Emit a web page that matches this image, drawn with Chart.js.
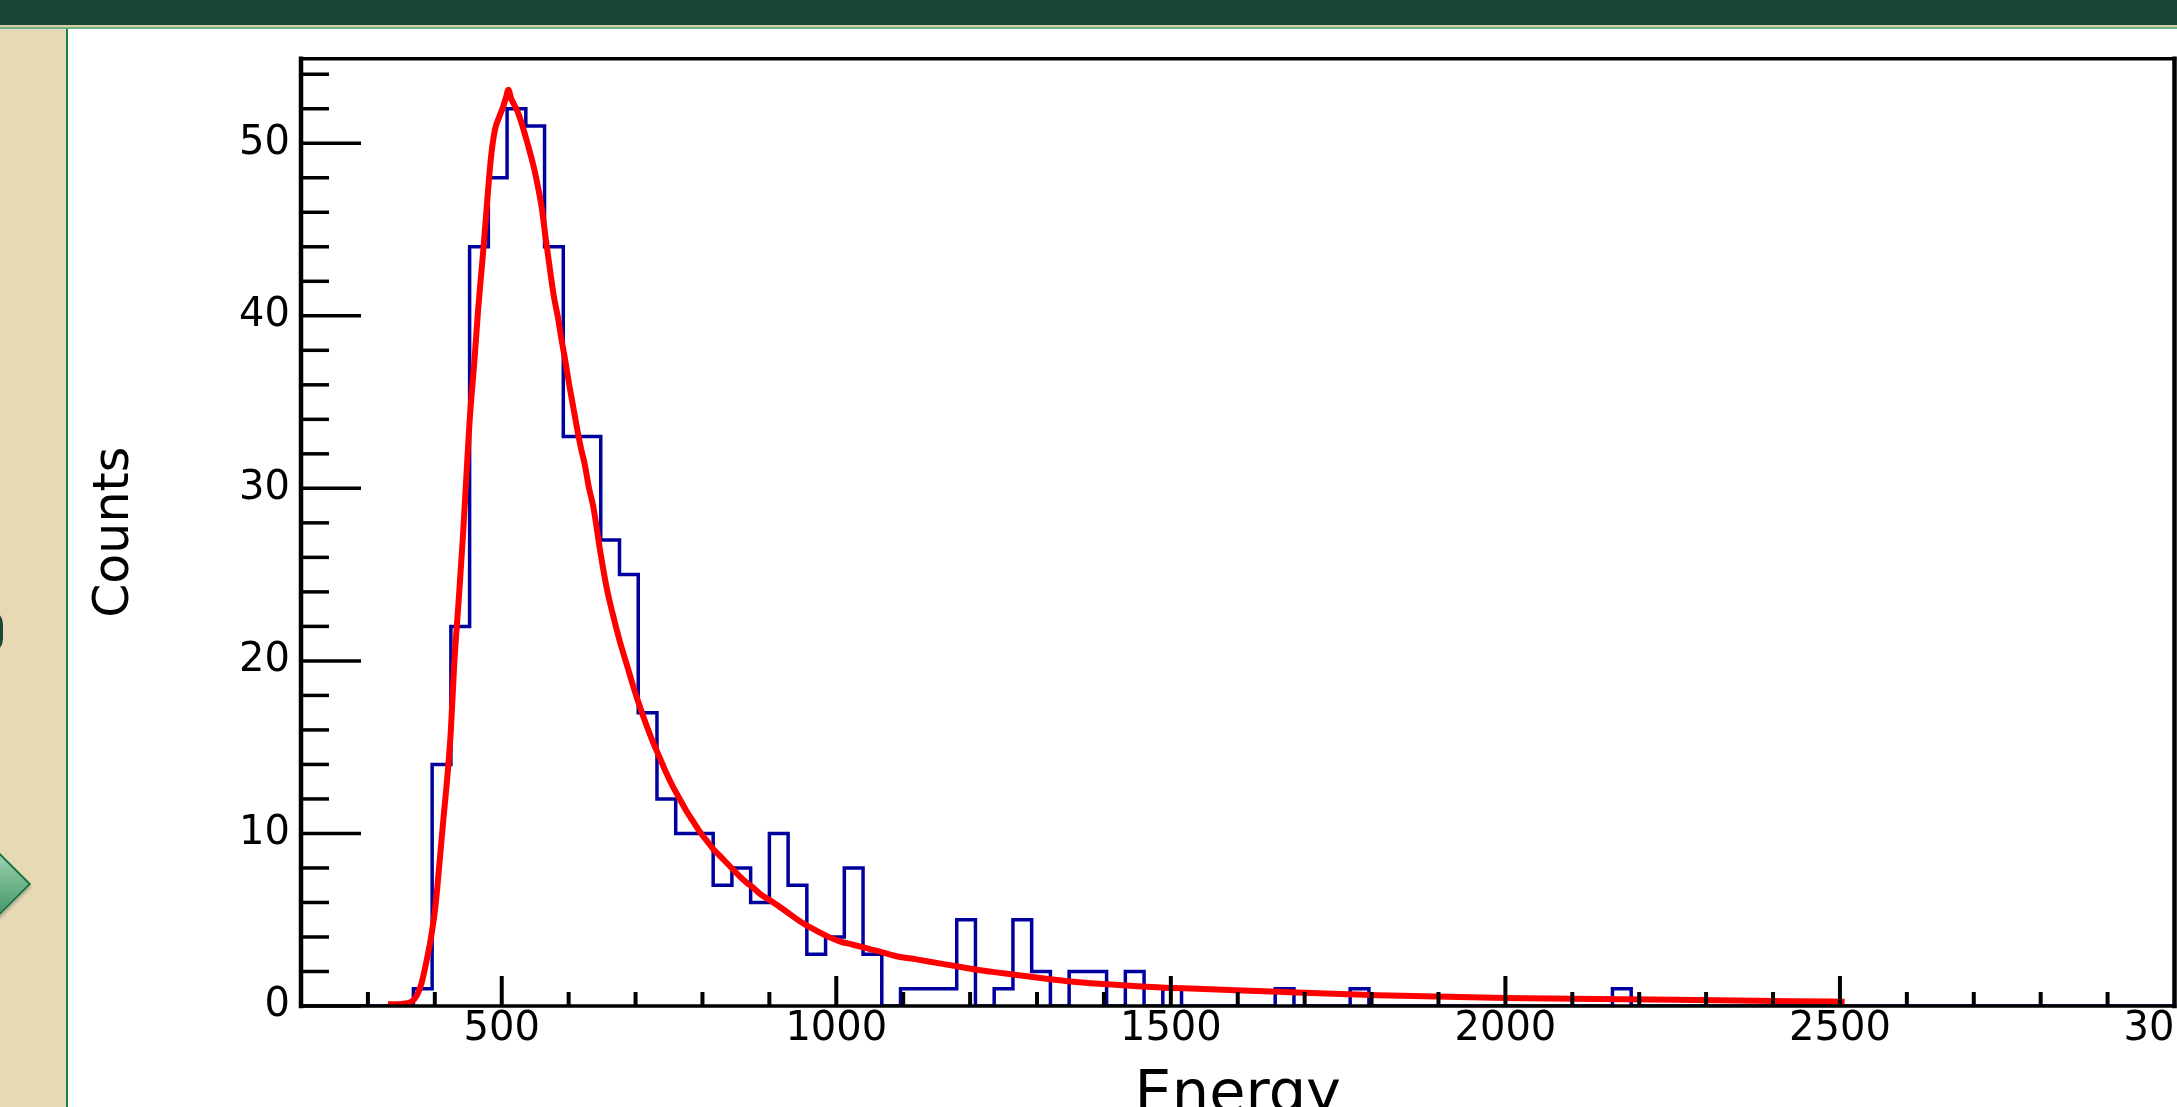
<!DOCTYPE html>
<html>
<head>
<meta charset="utf-8">
<title>Energy spectrum</title>
<script src="https://cdn.jsdelivr.net/npm/chart.js@4.4.1/dist/chart.umd.min.js"></script>
<style>
  html, body { margin: 0; padding: 0; overflow: hidden; background: #fff; }
  body { width: 2177px; height: 1107px; position: relative; }
  .topbar { position: absolute; left: 0; top: 0; width: 2177px; height: 25px; background: #1a4639; }
  .topline1 { position: absolute; left: 0; top: 25px; width: 2177px; height: 2px; background: #d6cea2; }
  .topline2 { position: absolute; left: 0; top: 27px; width: 2177px; height: 2px; background: #6cb08c; }
  .sidebar { position: absolute; left: 0; top: 29px; width: 66px; height: 1078px; background: #e6d9b4; border-right: 2px solid #1f8050; overflow: hidden; }
  .tab { position: absolute; left: -30px; top: 581px; width: 33px; height: 43px; background: #1a4639; border-radius: 0 14px 14px 0; }
  .arrow { position: absolute; left: -51px; top: 821px; width: 64px; height: 64px; transform: rotate(45deg);
           background: linear-gradient(to bottom right, #b2dfc1, #2e8a57); border: 2px solid #127244;
           box-shadow: 2px 2px 3px rgba(0,0,0,0.25); }
  #spectrum { position: absolute; left: 0; top: 0; }
</style>
</head>
<body>
<div class="topbar"></div>
<div class="topline1"></div>
<div class="topline2"></div>
<div class="sidebar"><div class="tab"></div><div class="arrow"></div></div>
<canvas id="spectrum" width="2177" height="1140"></canvas>

<script>
// Histogram: 100 bins of 28 from 200 to 3000
const binLow = 200;
const binWidth = 28;
const counts = [
    0, 0, 0, 0, 0, 0, 1, 14, 22, 44,
    48, 52, 51, 44, 33, 33, 27, 25, 17, 12,
    10, 10, 7, 8, 6, 10, 7, 3, 4, 8,
    3, 0, 1, 1, 1, 5, 0, 1, 5, 2,
    0, 2, 2, 0, 2, 0, 1, 0, 0, 0,
    0, 0, 1, 0, 0, 0, 1, 0, 0, 0,
    0, 0, 0, 0, 0, 0, 0, 0, 0, 0,
    1, 0, 0, 0, 0, 0, 0, 0, 0, 0,
    0, 0, 0, 0, 0, 0, 0, 0, 0, 0,
    0, 0, 0, 0, 0, 0, 0, 0, 0, 0
];

// Fitted curve, sampled
const fitEnergy = [
    330, 350, 365, 373, 380, 387, 394, 401, 407, 413,
    419, 424, 429, 436, 442, 447, 452, 459, 465, 472,
    478, 484, 490, 496, 501, 506, 510, 514, 519, 524,
    531, 537, 542, 548, 554, 560, 566, 572, 578, 584,
    589, 595, 600, 606, 612, 618, 624, 630, 637, 647,
    657, 666, 676, 686, 696, 706, 716, 726, 736, 746,
    756, 766, 776, 786, 796, 806, 816, 826, 836, 846,
    856, 866, 876, 886, 906, 926, 946, 966, 986, 1005,
    1025, 1045, 1065, 1090, 1120, 1150, 1180, 1210, 1250, 1300,
    1350, 1400, 1450, 1500, 1530, 1650, 1810, 2000, 2220, 2430,
    2507
];
const fitCounts = [
    0.10, 0.12, 0.25, 0.6, 1.3, 2.5, 3.9, 5.8, 8.3, 10.9,
    13.4, 16.0, 19.8, 23.7, 27.2, 30.6, 33.9, 37.3, 40.5, 43.6,
    46.5, 49.2, 50.8, 51.5, 52.0, 52.6, 53.1, 52.6, 52.2, 51.8,
    51.0, 50.2, 49.5, 48.6, 47.5, 46.2, 44.4, 42.7, 41.1, 39.9,
    38.7, 37.4, 36.2, 34.9, 33.6, 32.4, 31.4, 30.1, 28.9, 26.4,
    24.2, 22.7, 21.2, 19.9, 18.6, 17.4, 16.3, 15.3, 14.4, 13.5,
    12.7, 12.0, 11.3, 10.7, 10.1, 9.6, 9.1, 8.7, 8.3, 7.9,
    7.5, 7.15, 6.85, 6.5, 6.0, 5.45, 4.9, 4.45, 4.05, 3.75,
    3.55, 3.35, 3.15, 2.88, 2.7, 2.5, 2.3, 2.1, 1.9, 1.65,
    1.42, 1.27, 1.15, 1.05, 1.01, 0.84, 0.62, 0.47, 0.38, 0.28,
    0.25
];

const xTickLabels = [500, 1000, 1500, 2000, 2500, 3000];
const yTickLabels = [0, 10, 20, 30, 40, 50];

const histPoints = counts.map((c, i) => ({ x: binLow + i * binWidth, y: c }));
histPoints.push({ x: binLow + counts.length * binWidth, y: 0 });
const fitPoints = fitEnergy.map((e, i) => ({ x: e, y: fitCounts[i] }));

const font = 'DejaVu Sans';

// ROOT-like frame with inward major/minor ticks, drawn over the data
const frameTicks = {
    id: 'frameTicks',
    afterDatasetsDraw(chart) {
        const { ctx, chartArea: a, scales: { x, y } } = chart;
        ctx.save();
        ctx.strokeStyle = '#000';
        ctx.lineCap = 'butt';

        ctx.lineWidth = 3.5;
        for (let v = 0; v <= y.max; v += 2) {
            const py = y.getPixelForValue(v);
            const len = v % 10 === 0 ? 60 : 28;
            ctx.beginPath();
            ctx.moveTo(a.left, py);
            ctx.lineTo(a.left + len, py);
            ctx.stroke();
        }

        ctx.lineWidth = 4;
        for (let v = 300; v < x.max; v += 100) {
            const px = x.getPixelForValue(v);
            const len = v % 500 === 0 ? 30 : 14;
            ctx.beginPath();
            ctx.moveTo(px, a.bottom);
            ctx.lineTo(px, a.bottom - len);
            ctx.stroke();
        }

        ctx.lineCap = 'square';
        ctx.lineWidth = 3.5;
        ctx.beginPath();
        ctx.moveTo(a.left, a.top);
        ctx.lineTo(a.right, a.top);
        ctx.moveTo(a.left, a.bottom);
        ctx.lineTo(a.right, a.bottom);
        ctx.stroke();
        ctx.lineWidth = 4.5;
        ctx.beginPath();
        ctx.moveTo(a.left, a.top);
        ctx.lineTo(a.left, a.bottom);
        ctx.moveTo(a.right, a.top);
        ctx.lineTo(a.right, a.bottom);
        ctx.stroke();
        ctx.restore();
    }
};

function noPadding(scale) {
    scale.paddingLeft = 0;
    scale.paddingRight = 0;
    scale.paddingTop = 0;
    scale.paddingBottom = 0;
}

new Chart(document.getElementById('spectrum'), {
    type: 'line',
    data: {
        datasets: [
            {
                label: 'fit',
                data: fitPoints,
                borderColor: '#ff0000',
                borderWidth: 6,
                pointRadius: 0,
                cubicInterpolationMode: 'monotone',
                order: 0
            },
            {
                label: 'Energy',
                data: histPoints,
                borderColor: '#00009f',
                borderWidth: 3.5,
                pointRadius: 0,
                stepped: 'before',
                order: 1
            }
        ]
    },
    options: {
        responsive: false,
        animation: false,
        events: [],
        layout: { padding: { left: 0, top: 58.7, right: 2.5, bottom: 0 } },
        plugins: {
            legend: { display: false },
            tooltip: { enabled: false }
        },
        scales: {
            x: {
                type: 'linear',
                position: 'bottom',
                min: 200,
                max: 3000,
                grid: { display: false, drawTicks: false },
                border: { display: false },
                afterBuildTicks: s => { s.ticks = xTickLabels.map(v => ({ value: v })); },
                afterFit: s => { s.height = 134; noPadding(s); },
                ticks: {
                    autoSkip: false,
                    maxRotation: 0,
                    padding: 0,
                    color: '#000',
                    font: { family: font, size: 40 },
                    callback: v => String(v)
                },
                title: {
                    display: true,
                    text: 'Energy',
                    color: '#000',
                    font: { family: font, size: 59 },
                    padding: { top: 0, bottom: 8 }
                }
            },
            y: {
                type: 'linear',
                position: 'left',
                min: 0,
                max: 54.9,
                grid: { display: false, drawTicks: false },
                border: { display: false },
                afterBuildTicks: s => { s.ticks = yTickLabels.map(v => ({ value: v })); },
                afterFit: s => { s.width = 301; noPadding(s); },
                ticks: {
                    autoSkip: false,
                    padding: 11,
                    color: '#000',
                    font: { family: font, size: 40 },
                    callback: v => String(v)
                },
                title: {
                    display: true,
                    text: 'Counts',
                    color: '#000',
                    font: { family: font, size: 49 },
                    padding: { top: 85.6, bottom: 0 }
                }
            }
        }
    },
    plugins: [frameTicks]
});
</script>
</body>
</html>
